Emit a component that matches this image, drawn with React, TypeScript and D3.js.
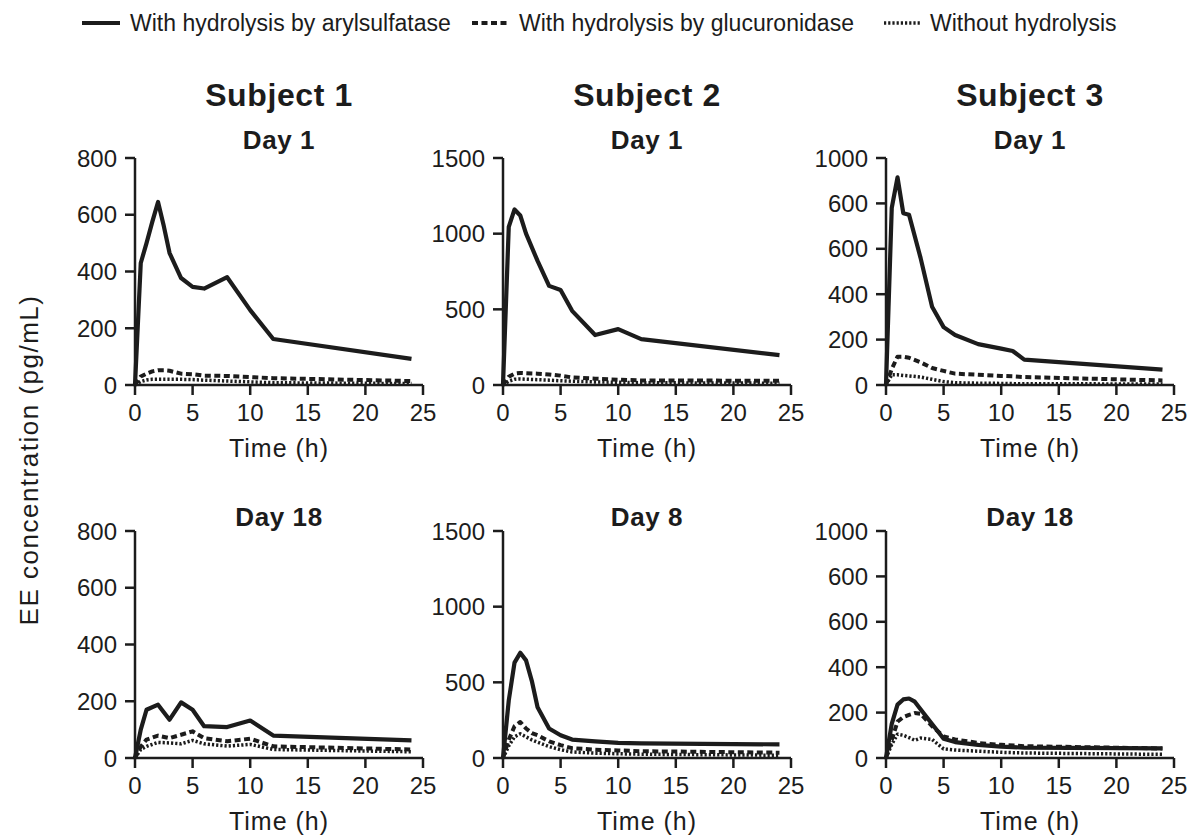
import React from "react";
import * as d3 from "d3";

// legend + panel headings
const seriesNames = [
  "With hydrolysis by arylsulfatase",
  "With hydrolysis by glucuronidase",
  "Without hydrolysis",
];
const subjects = ["Subject 1", "Subject 2", "Subject 3"];
const dayLabels = [
  ["Day 1", "Day 18"],
  ["Day 1", "Day 8"],
  ["Day 1", "Day 18"],
];

const xTicks = [0, 5, 10, 15, 20, 25];
const yTicksS1 = [0, 200, 400, 600, 800];
const yLabelsS1 = ["0", "200", "400", "600", "800"];
const yTicksS2 = [0, 500, 1000, 1500];
const yLabelsS2 = ["0", "500", "1000", "1500"];
const yTicksS3 = [0, 200, 400, 600, 800, 1000];
const yLabelsS3 = ["0", "200", "400", "600", "600", "1000"];

// Subject 1, Day 1
const s1d1Time = [0, 0.5, 1, 1.5, 2, 2.5, 3, 4, 5, 6, 8, 10, 12, 24];
const s1d1Aryl = [0, 430, 500, 575, 645, 560, 465, 377, 346, 340, 380, 264, 162, 92];
const s1d1Gluc = [0, 30, 40, 48, 52, 52, 50, 40, 38, 33, 32, 28, 24, 14];
const s1d1None = [0, 12, 18, 20, 20, 20, 20, 20, 19, 17, 14, 11, 8, 5];

// Subject 1, Day 18
const s1d18Time = [0, 0.5, 1, 2, 3, 4, 5, 6, 8, 10, 12, 24];
const s1d18Aryl = [0, 100, 170, 188, 135, 196, 170, 112, 109, 132, 79, 62];
const s1d18Gluc = [0, 40, 65, 79, 70, 82, 94, 70, 59, 68, 41, 30];
const s1d18None = [0, 30, 41, 55, 53, 50, 62, 50, 42, 48, 30, 22];

// Subject 2, Day 1
const s2d1Time = [0, 0.5, 1, 1.5, 2, 3, 4, 5, 6, 8, 10, 12, 24];
const s2d1Aryl = [0, 1045, 1160, 1120, 1000, 820, 655, 628, 490, 330, 369, 303, 197];
const s2d1Gluc = [0, 55, 75, 80, 78, 75, 70, 62, 50, 42, 35, 30, 28];
const s2d1None = [0, 25, 38, 40, 38, 35, 32, 28, 25, 20, 18, 15, 12];

// Subject 2, Day 8
const s2d8Time = [0, 0.5, 1, 1.5, 2, 2.5, 3, 4, 5, 6, 8, 10, 12, 24];
const s2d8Aryl = [0, 380, 630, 695, 645, 510, 335, 195, 150, 122, 110, 100, 96, 90];
const s2d8Gluc = [0, 120, 210, 238, 195, 165, 150, 110, 85, 65, 55, 50, 45, 35];
const s2d8None = [0, 80, 140, 160, 140, 120, 105, 75, 55, 40, 32, 28, 25, 18];

// Subject 3, Day 1
const s3d1Time = [0, 0.5, 1, 1.5, 2, 3, 4, 5, 6, 8, 10, 11, 12, 24];
const s3d1Aryl = [0, 780, 915, 757, 750, 560, 345, 255, 220, 180, 160, 150, 112, 68];
const s3d1Gluc = [0, 70, 125, 125, 120, 100, 75, 62, 50, 45, 40, 38, 35, 20];
const s3d1None = [0, 45, 45, 42, 40, 35, 25, 15, 10, 8, 7, 6, 6, 4];

// Subject 3, Day 18
const s3d18Time = [0, 0.5, 1, 1.5, 2, 2.5, 3, 4, 5, 6, 8, 10, 12, 24];
const s3d18Aryl = [0, 150, 235, 258, 262, 248, 215, 150, 85, 70, 58, 50, 46, 42];
const s3d18Gluc = [0, 80, 160, 180, 190, 198, 195, 140, 95, 82, 66, 58, 52, 42];
const s3d18None = [0, 60, 105, 100, 90, 78, 88, 82, 40, 35, 30, 25, 22, 16];

const panels = [
  { col: 0, row: 0, time: s1d1Time, vals: [s1d1Aryl, s1d1Gluc, s1d1None], max: 800, ticks: yTicksS1, labels: yLabelsS1 },
  { col: 0, row: 1, time: s1d18Time, vals: [s1d18Aryl, s1d18Gluc, s1d18None], max: 800, ticks: yTicksS1, labels: yLabelsS1 },
  { col: 1, row: 0, time: s2d1Time, vals: [s2d1Aryl, s2d1Gluc, s2d1None], max: 1500, ticks: yTicksS2, labels: yLabelsS2 },
  { col: 1, row: 1, time: s2d8Time, vals: [s2d8Aryl, s2d8Gluc, s2d8None], max: 1500, ticks: yTicksS2, labels: yLabelsS2 },
  { col: 2, row: 0, time: s3d1Time, vals: [s3d1Aryl, s3d1Gluc, s3d1None], max: 1000, ticks: yTicksS3, labels: yLabelsS3 },
  { col: 2, row: 1, time: s3d18Time, vals: [s3d18Aryl, s3d18Gluc, s3d18None], max: 1000, ticks: yTicksS3, labels: yLabelsS3 },
];

const colX = [135, 503, 886];
const rowBottom = [385, 758];
const plotW = 288;
const plotH = 227;
const ink = "#1c1c1c";
const font = "'Liberation Sans', Arial, Helvetica, sans-serif";

const lineStyles = [
  { width: 4.2, dash: "none" },
  { width: 4, dash: "6 3.5" },
  { width: 3.5, dash: "2.2 2" },
];

const Panel = ({ p }) => {
  const x0 = colX[p.col];
  const y0 = rowBottom[p.row];
  const x = d3.scaleLinear().domain([0, 25]).range([x0, x0 + plotW]);
  const y = d3.scaleLinear().domain([0, p.max]).range([y0, y0 - plotH]);
  const line = d3
    .line<number>()
    .x((_, i) => x(p.time[i]))
    .y((d) => y(d))
    .curve(d3.curveLinear);

  return (
    <g>
      {/* series, drawn back to front */}
      {[2, 1, 0].map((k) => (
        <path
          key={k}
          d={line(p.vals[k]) ?? ""}
          fill="none"
          stroke={ink}
          strokeWidth={lineStyles[k].width}
          strokeDasharray={lineStyles[k].dash}
          strokeLinejoin="round"
        />
      ))}

      {/* y axis */}
      <line x1={x0} x2={x0} y1={y(0) + 1.25} y2={y(p.max)} stroke={ink} strokeWidth={2.5} />
      {p.ticks.map((t, i) => (
        <g key={"y" + t}>
          <line x1={x0 - 10} x2={x0} y1={y(t)} y2={y(t)} stroke={ink} strokeWidth={2.5} />
          <text x={x0 - 18} y={y(t) + 8.5} textAnchor="end" fontSize={24} fill={ink}>
            {p.labels[i]}
          </text>
        </g>
      ))}

      {/* x axis */}
      <line x1={x(0) - 1.25} x2={x(25)} y1={y0} y2={y0} stroke={ink} strokeWidth={2.5} />
      {xTicks.map((t) => (
        <g key={"x" + t}>
          <line x1={x(t)} x2={x(t)} y1={y0} y2={y0 + 10} stroke={ink} strokeWidth={2.5} />
          <text x={x(t)} y={y0 + 36} textAnchor="middle" fontSize={24} fill={ink}>
            {t}
          </text>
        </g>
      ))}
      <text
        x={x0 + plotW / 2}
        y={y0 + 72}
        textAnchor="middle"
        fontSize={25}
        letterSpacing={1}
        fill={ink}
      >
        Time (h)
      </text>

      <text
        x={x0 + plotW / 2}
        y={p.row === 0 ? 149 : 526}
        textAnchor="middle"
        fontSize={26}
        fontWeight="bold"
        letterSpacing={0.6}
        fill={ink}
      >
        {dayLabels[p.col][p.row]}
      </text>
    </g>
  );
};

const legendX = [82, 472, 884];
const legendLen = [38, 38, 37];
const legendTextX = [130, 519, 930];

export default function App() {
  return (
    <svg
      width={1192}
      height={838}
      style={{ position: "absolute", left: 0, top: 0, background: "#fff" }}
      fontFamily={font}
    >
      {/* legend */}
      {seriesNames.map((name, k) => (
        <g key={name}>
          <line
            x1={legendX[k]}
            x2={legendX[k] + legendLen[k]}
            y1={23}
            y2={23}
            stroke={ink}
            strokeWidth={lineStyles[k].width}
            strokeDasharray={lineStyles[k].dash}
          />
          <text x={legendTextX[k]} y={31} fontSize={23} fill={ink}>
            {name}
          </text>
        </g>
      ))}

      {subjects.map((s, i) => (
        <text
          key={s}
          x={colX[i] + plotW / 2}
          y={106}
          textAnchor="middle"
          fontSize={32}
          fontWeight="bold"
          letterSpacing={0.6}
          fill={ink}
        >
          {s}
        </text>
      ))}

      <text
        transform="translate(38,460) rotate(-90)"
        textAnchor="middle"
        fontSize={26}
        letterSpacing={1.5}
        fill={ink}
      >
        EE concentration (pg/mL)
      </text>

      {panels.map((p, i) => (
        <Panel key={i} p={p} />
      ))}
    </svg>
  );
}
